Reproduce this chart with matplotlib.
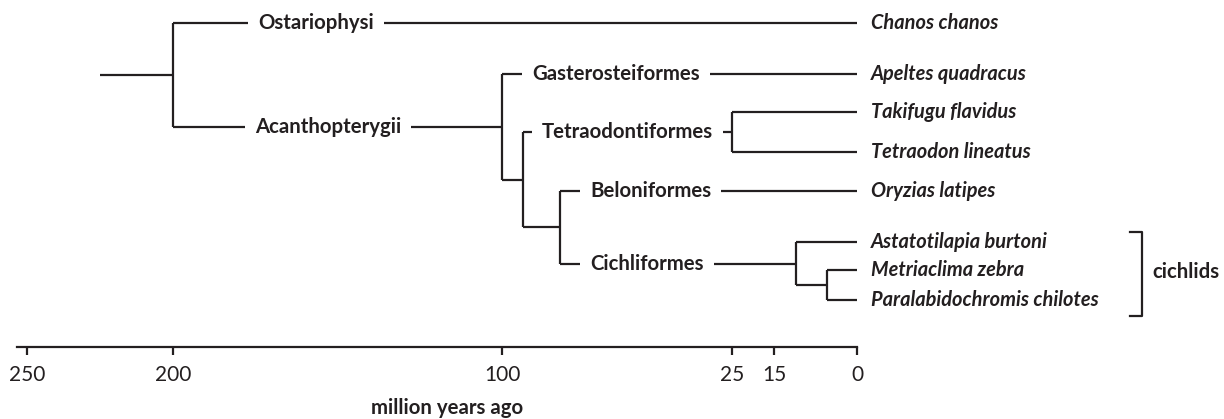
import numpy as np
import matplotlib.pyplot as plt

plt.rcParams['font.family'] = ['Lato', 'DejaVu Sans']

# ages in million years ago
tick_ages = [250, 200, 100, 25, 15, 0]
root_age = 225

tips = ["Chanos chanos", "Apeltes quadracus", "Takifugu flavidus", "Tetraodon lineatus",
        "Oryzias latipes", "Astatotilapia burtoni", "Metriaclima zebra",
        "Paralabidochromis chilotes"]

node_names = ["root", "acan", "perco", "ovalent", "tetra", "cichlid", "hap"]
node_ages = [200, 100, 93, 81, 25, 11, 5.5]
node_kids = [["Chanos chanos", "acan"],
             ["Apeltes quadracus", "perco"],
             ["tetra", "ovalent"],
             ["Oryzias latipes", "cichlid"],
             ["Takifugu flavidus", "Tetraodon lineatus"],
             ["Astatotilapia burtoni", "hap"],
             ["Metriaclima zebra", "Paralabidochromis chilotes"]]

branch_to = ["Chanos chanos", "acan", "Apeltes quadracus", "tetra", "Oryzias latipes", "cichlid"]
branch_names = ["Ostariophysi", "Acanthopterygii", "Gasterosteiformes", "Tetraodontiformes",
                "Beloniformes", "Cichliformes"]

# layout (pixel rows / columns of the figure)
tip_y = [23, 74, 112, 152, 191, 242, 270, 300]
label_px = [258, 255, 532, 542, 590, 590]

# the time axis is stretched unevenly
scale_ages = [-80, 0, 15, 25, 100, 200, 250, 300]
scale_px = [1299, 857, 774, 732, 502, 173, 27, -119]

def fwd(v):
    return -np.interp(v, scale_ages, scale_px)

def inv(u):
    return np.interp(-np.asarray(u), scale_px[::-1], scale_ages[::-1])

def age_at(px):
    return float(inv(-px))

ink = '#231f20'
lw = 1.6
fs = 14.7

fig = plt.figure(figsize=(12.24, 4.19), dpi=100)
ax = fig.add_axes([0, 0, 1, 1])
ax.set_xscale('function', functions=(fwd, inv))
ax.set_xlim(age_at(0), age_at(1224))
ax.set_ylim(419, 0)

branch_y = {}

def draw(name, parent_age):
    if name in tips:
        y = tip_y[tips.index(name)]
        age = 0
    else:
        i = node_names.index(name)
        age = node_ages[i]
        ys = [draw(k, age) for k in node_kids[i]]
        ax.vlines(age, min(ys), max(ys), color=ink, lw=lw)
        y = np.mean(ys)
    ax.hlines(y, parent_age, age, color=ink, lw=lw)
    branch_y[name] = y
    return y

draw("root", root_age)

for t, lab, px in zip(branch_to, branch_names, label_px):
    ax.text(age_at(px), branch_y[t], lab, ha='left', va='center', fontsize=fs,
            fontweight='bold', color=ink,
            bbox=dict(facecolor='white', edgecolor='none', boxstyle='square,pad=0.5'))

for name, y in zip(tips, tip_y):
    ax.annotate(name, (0, y), xytext=(10, 0), textcoords='offset points', va='center',
                fontsize=14.4, fontweight='bold', fontstyle='italic', color=ink)

# cichlid bracket
bx, bx0 = age_at(1142), age_at(1130)
ax.plot([bx0, bx, bx, bx0], [232, 232, 316, 316], color=ink, lw=lw)
ax.text(age_at(1152), 272, "cichlids", ha='left', va='center', fontsize=fs,
        fontweight='bold', color=ink)

# time axis
for s in ['top', 'left', 'right']:
    ax.spines[s].set_visible(False)
ax.spines['bottom'].set_position(('data', 347))
ax.spines['bottom'].set_bounds(age_at(17), 0)
ax.spines['bottom'].set_linewidth(lw)
ax.spines['bottom'].set_color(ink)
ax.set_xticks(tick_ages)
ax.set_xticklabels([str(t) for t in tick_ages])
ax.set_yticks([])
ax.tick_params(axis='x', direction='out', length=6, width=lw, color=ink, pad=7,
               labelsize=15, labelcolor=ink)
ax.text(age_at(447), 408, "million years ago", ha='center', va='center', fontsize=fs,
        fontweight='bold', color=ink)

fig.savefig("out.png", dpi=100)
